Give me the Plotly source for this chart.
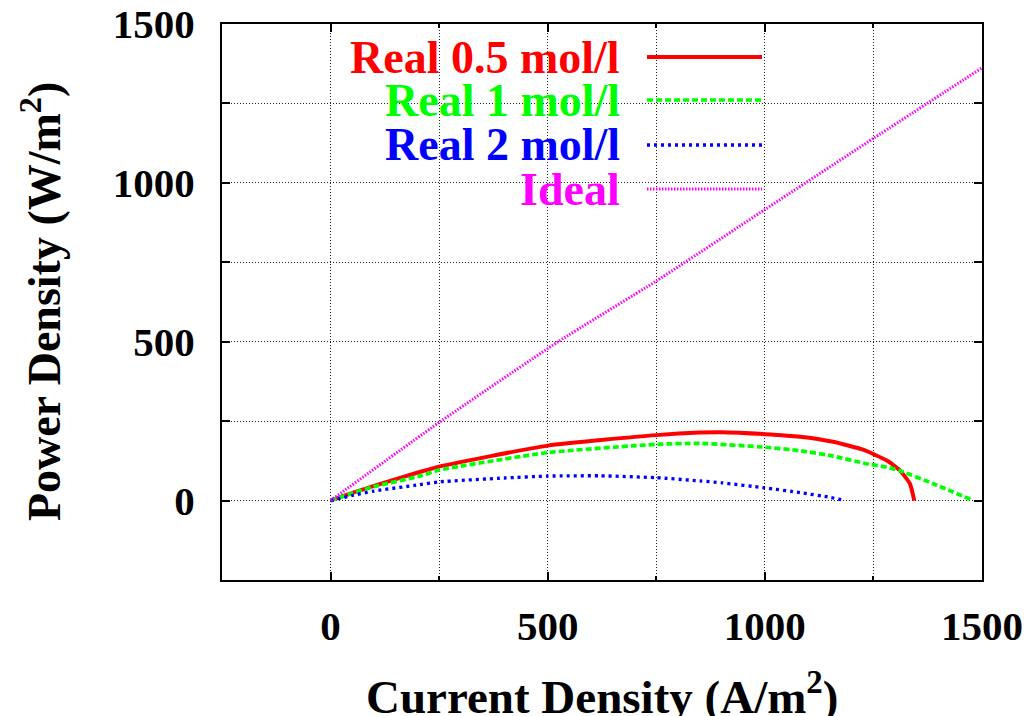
import plotly.graph_objects as go

# Current density (A/m^2) and power density (W/m^2) for each electrolyte concentration
x_real_05 = [0, 50, 100, 205, 250, 500, 750, 850, 900, 1000, 1081, 1157, 1226, 1281, 1311, 1334, 1344]
y_real_05 = [0, 24, 46, 90, 107, 173, 206, 214, 215, 209, 201, 185, 160, 126, 95, 53, 0]

x_real_1 = [0, 50, 100, 205, 250, 500, 750, 850, 1000, 1081, 1157, 1234, 1281, 1311, 1388, 1480]
y_real_1 = [0, 23, 44, 77, 96, 151, 177, 180, 168, 157, 140, 116, 105, 94, 53, 0]

x_real_2 = [0, 50, 100, 205, 251, 400, 500, 620, 750, 850, 900, 1000, 1081, 1150, 1185]
y_real_2 = [0, 16, 30, 50, 59, 71, 77, 78, 72, 62, 56, 40, 25, 10, 0]

x_ideal = [0, 250, 524, 750, 1000, 1250, 1500]
y_ideal = [0, 246, 500, 691, 916, 1140, 1362]

series_names = ["Real 0.5 mol/l", "Real 1 mol/l", "Real 2 mol/l", "Ideal"]
series_colors = ["#ff0000", "#00ff00", "#0000ff", "#ff00ff"]
series_dash = ["solid", "6px,3px", "3px,4px", "1.5px,1.5px"]
series_width = [4, 3.7, 3.3, 3]

tick_vals = [0, 500, 1000, 1500]

FONT = "Liberation Serif"

fig = go.Figure()
for xs, ys, name, col, dash, w in zip(
    [x_real_05, x_real_1, x_real_2, x_ideal],
    [y_real_05, y_real_1, y_real_2, y_ideal],
    series_names, series_colors, series_dash, series_width,
):
    fig.add_trace(go.Scatter(
        x=xs, y=ys, mode="lines", name=name, showlegend=False,
        line=dict(color=col, dash=dash, width=w, shape="spline", smoothing=0.5),
    ))

# Key drawn inside the plot: right-aligned labels with line samples on the right
row_y = [0.9406, 0.8633, 0.7824, 0.7032]
for name, col, dash, w, yy in zip(series_names, series_colors, series_dash, series_width, row_y):
    fig.add_annotation(
        x=0.526, y=yy, xref="paper", yref="paper", xanchor="right", yanchor="middle",
        text=name, showarrow=False,
        font=dict(family=FONT, size=46, color=col, weight="bold"),
    )
    fig.add_shape(
        type="line", xref="paper", yref="paper",
        x0=0.5592, x1=0.7105, y0=yy, y1=yy,
        line=dict(color=col, dash=dash, width=w),
    )

# Axis titles
fig.add_annotation(
    x=0.5, y=-0.205, xref="paper", yref="paper", xanchor="center", yanchor="middle",
    text="Current Density (A/m<sup>2</sup>)", showarrow=False,
    font=dict(family=FONT, size=47, color="black", weight="bold"),
)
fig.add_annotation(
    x=-0.238, y=0.5, xref="paper", yref="paper", xanchor="center", yanchor="middle",
    text="Power Density (W/m<sup>2</sup>)", showarrow=False, textangle=-90,
    font=dict(family=FONT, size=46, color="black", weight="bold"),
)

axis_common = dict(
    range=[-250, 1500], automargin=False,
    tickmode="array", tickvals=tick_vals,
    ticks="inside", ticklen=8, tickwidth=1.5, tickcolor="black",
    showline=True, linewidth=2, linecolor="black", mirror="ticks",
    showgrid=True, gridcolor="#222222", gridwidth=1, griddash="1px,2px",
    zeroline=False,
    tickfont=dict(family=FONT, size=41, color="black", weight="bold"),
)

fig.update_layout(
    width=1029, height=716,
    margin=dict(l=222, r=47, t=24, b=136, autoexpand=False),
    paper_bgcolor="white", plot_bgcolor="white",
    xaxis=dict(
        **axis_common,
        ticklabelstandoff=9,
        minor=dict(tickvals=[-250, 250, 750, 1250], ticks="inside", ticklen=4, tickcolor="black",
                   showgrid=True, gridcolor="#222222", gridwidth=1, griddash="1px,2px"),
    ),
    yaxis=dict(
        **axis_common,
        ticklabelstandoff=17,
        minor=dict(tickvals=[-250, 250, 750, 1250], ticks="inside", ticklen=8, tickcolor="black",
                   showgrid=True, gridcolor="#222222", gridwidth=1, griddash="1px,2px"),
    ),
)

fig.write_html("out.html")
